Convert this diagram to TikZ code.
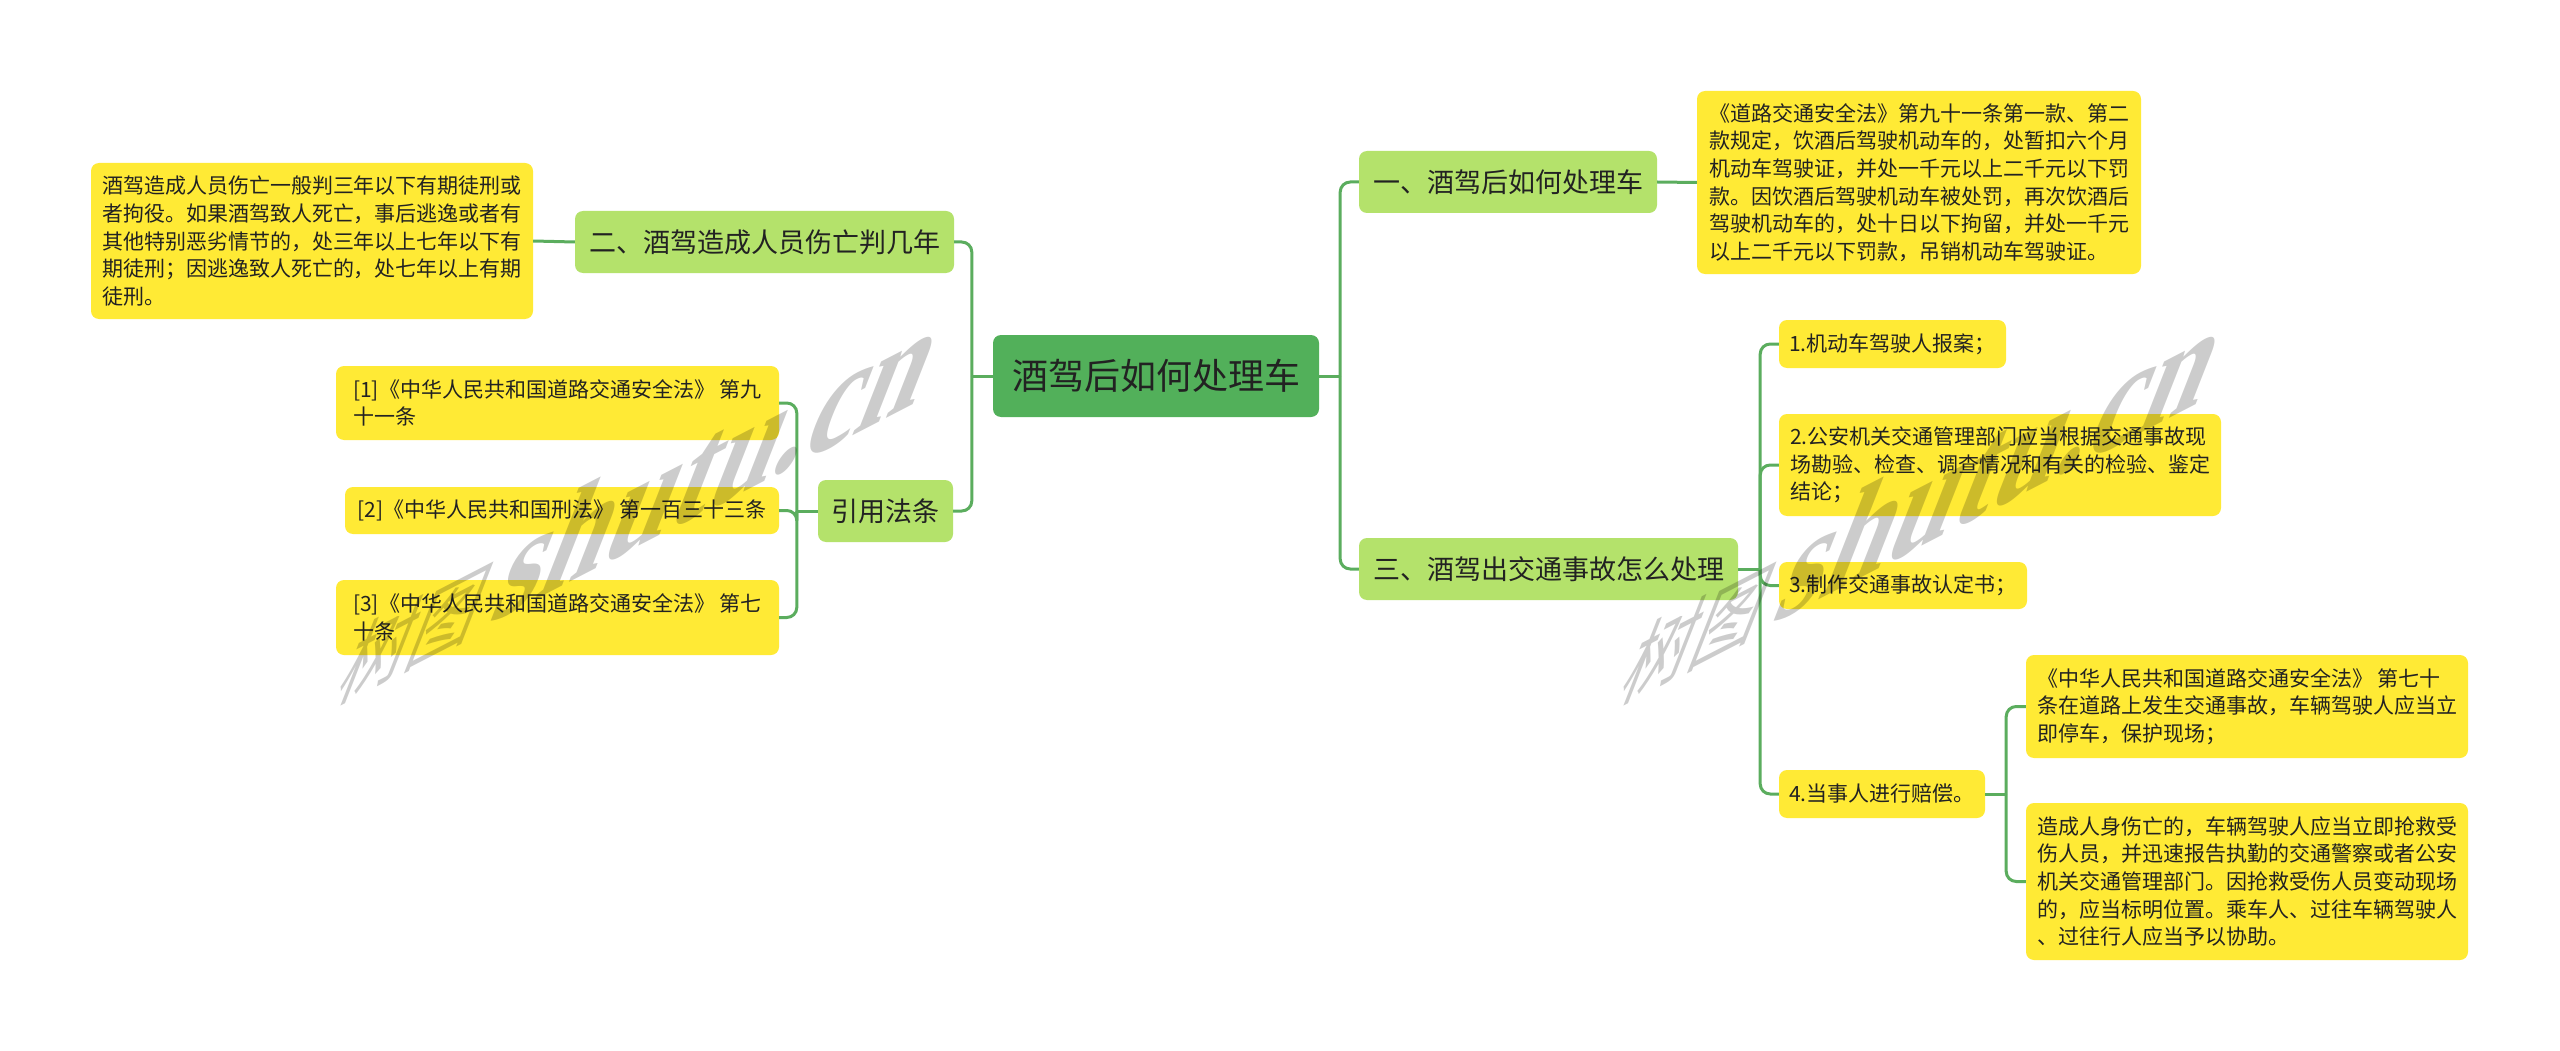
\documentclass[tikz,border=0pt]{standalone}
\usepackage{fontspec}
\newfontfamily\cjk{Noto Sans CJK SC}
\newfontfamily\wmserif{Liberation Serif}
\definecolor{rootg}{HTML}{52B05A}
\definecolor{lvlg}{HTML}{B4E26B}
\definecolor{leafy}{HTML}{FFEA35}
\definecolor{lineg}{HTML}{5BAD5E}
\definecolor{txt}{HTML}{222222}
\newcommand{\wmtext}{{\cjk\fontsize{82}{90}\selectfont 树图}\hspace{20pt}{\wmserif\bfseries\fontsize{140}{150}\selectfont shutu.cn}}
\tikzset{
  box/.style={rounded corners=8pt, inner sep=0pt, align=left, text=txt},
  rootbox/.style={box, fill=rootg, font=\cjk\fontsize{36}{43}\selectfont},
  lvlbox/.style={box, fill=lvlg, font=\cjk\fontsize{27}{32}\selectfont},
  leafbox/.style={box, fill=leafy, font=\cjk\fontsize{21}{27.6}\selectfont},
  conn/.style={draw=lineg, line width=3pt, rounded corners=10pt},
  wm/.style={text=black, text opacity=0.2, inner sep=0pt, anchor=base west,
    cm={0.84,0.434,0.45,1.15,(0,0)}},
}
\begin{document}
\begin{tikzpicture}[x=1pt,y=-1pt]
\fill[white] (0,0) rectangle (2560,1051);
\useasboundingbox (0,0) rectangle (2560,1051);

% root
\node[rootbox, minimum width=326pt, minimum height=82pt] (root) at (1156,376) {酒驾后如何处理车};

% level 1
\node[lvlbox, minimum width=298pt, minimum height=62pt] (n1) at (1508,182) {一、酒驾后如何处理车};
\node[lvlbox, minimum width=379pt, minimum height=62pt] (n2) at (764.5,242) {二、酒驾造成人员伤亡判几年};
\node[lvlbox, minimum width=379pt, minimum height=62pt] (n3) at (1548.5,569) {三、酒驾出交通事故怎么处理};
\node[lvlbox, minimum width=135pt, minimum height=62pt] (n4) at (885.5,511) {引用法条};

% leaves
\node[leafbox, minimum width=444pt, minimum height=183pt] (n1a) at (1919,182.5) {《道路交通安全法》第九十一条第一款、第二\\款规定，饮酒后驾驶机动车的，处暂扣六个月\\机动车驾驶证，并处一千元以上二千元以下罚\\款。因饮酒后驾驶机动车被处罚，再次饮酒后\\驾驶机动车的，处十日以下拘留，并处一千元\\以上二千元以下罚款，吊销机动车驾驶证。};

\node[leafbox, minimum width=442pt, minimum height=156pt] (n2a) at (312,241) {酒驾造成人员伤亡一般判三年以下有期徒刑或\\者拘役。如果酒驾致人死亡，事后逃逸或者有\\其他特别恶劣情节的，处三年以上七年以下有\\期徒刑；因逃逸致人死亡的，处七年以上有期\\徒刑。};

\node[leafbox, minimum width=227pt, minimum height=48pt] (n3a) at (1892.5,344) {1.机动车驾驶人报案；};
\node[leafbox, minimum width=442pt, minimum height=102pt] (n3b) at (2000,465) {2.公安机关交通管理部门应当根据交通事故现\\场勘验、检查、调查情况和有关的检验、鉴定\\结论；};
\node[leafbox, minimum width=248pt, minimum height=47pt] (n3c) at (1903,585.5) {3.制作交通事故认定书；};
\node[leafbox, minimum width=206pt, minimum height=48pt] (n3d) at (1882,794) {4.当事人进行赔偿。};
\node[leafbox, minimum width=442pt, minimum height=103pt] (n3d1) at (2247,706.5) {《中华人民共和国道路交通安全法》 第七十\\条在道路上发生交通事故，车辆驾驶人应当立\\即停车，保护现场；};
\node[leafbox, minimum width=442pt, minimum height=157pt] (n3d2) at (2247,881.5) {造成人身伤亡的，车辆驾驶人应当立即抢救受\\伤人员，并迅速报告执勤的交通警察或者公安\\机关交通管理部门。因抢救受伤人员变动现场\\的，应当标明位置。乘车人、过往车辆驾驶人\\、过往行人应当予以协助。};

\node[leafbox, minimum width=443pt, minimum height=74pt] (n4a) at (557.5,403) {[1]《中华人民共和国道路交通安全法》 第九\\十一条};
\node[leafbox, minimum width=434pt, minimum height=47pt] (n4b) at (562,510.5) {[2]《中华人民共和国刑法》 第一百三十三条};
\node[leafbox, minimum width=443pt, minimum height=75pt] (n4c) at (557.5,617.5) {[3]《中华人民共和国道路交通安全法》 第七\\十条};

% junction coordinates
\coordinate (jL) at ([xshift=-21pt]root.west);
\coordinate (jR) at ([xshift=21pt]root.east);
\coordinate (j4) at ([xshift=-21pt]n4.west);
\coordinate (j3) at ([xshift=22pt]n3.east);
\coordinate (j3d) at ([xshift=21pt]n3d.east);

% connectors
\draw[conn] (root.west) -- (jL);
\draw[conn] (jL) |- (n2.east);
\draw[conn] (jL) |- (n4.east);
\draw[conn] (root.east) -- (jR);
\draw[conn] (jR) |- (n1.west);
\draw[conn] (jR) |- (n3.west);
\draw[conn] (n1.east) -- (n1a.west);
\draw[conn] (n2.west) -- (n2a.east);
\draw[conn] (n4.west) -- (j4);
\draw[conn] (j4) |- (n4a.east);
\draw[conn] (j4) |- (n4b.east);
\draw[conn] (j4) |- (n4c.east);
\draw[conn] (n3.east) -- (j3);
\draw[conn] (j3) |- (n3a.west);
\draw[conn] (j3) |- (n3b.west);
\draw[conn] (j3) |- (n3c.west);
\draw[conn] (j3) |- (n3d.west);
\draw[conn] (n3d.east) -- (j3d);
\draw[conn] (j3d) |- (n3d1.west);
\draw[conn] (j3d) |- (n3d2.west);

% watermarks
\node[wm] (wm1) at (332,705) {\wmtext};
\node[wm] (wm2) at (1615,705) {\wmtext};
\end{tikzpicture}
\end{document}
